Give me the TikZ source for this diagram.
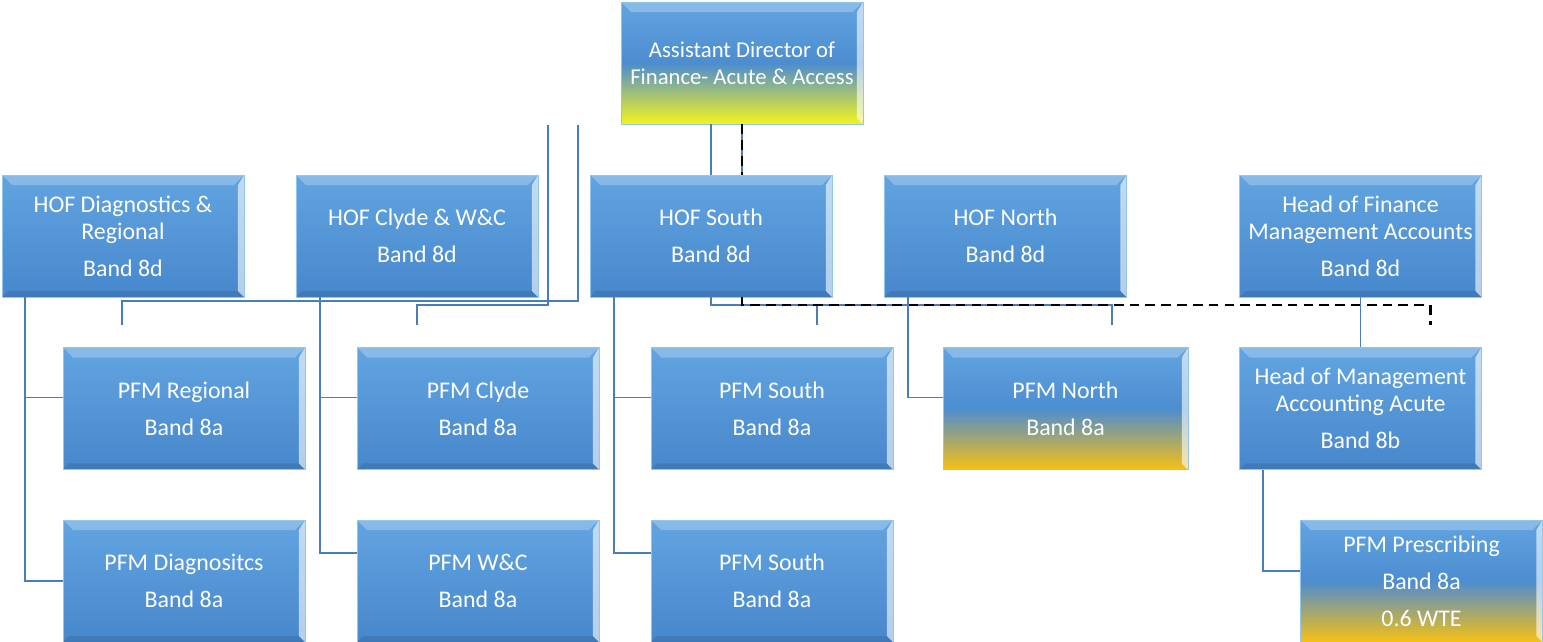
\documentclass[tikz,border=0pt]{standalone}
\usepackage{fontspec}
\setmainfont{Carlito}
\usetikzlibrary{positioning}
\usetikzlibrary{calc}

\definecolor{boxtop}{HTML}{62A4E1}
\definecolor{boxbot}{HTML}{4787CC}
\definecolor{boxedge}{HTML}{93C6EC}
\definecolor{adfyellow}{HTML}{F4F41E}
\definecolor{pfmgold}{HTML}{F7C014}
\definecolor{linkblue}{HTML}{4A7EBB}

\tikzset{
  bevel shade/.initial=0.1,
  orgbox/.style={rectangle, minimum width=4.84cm, minimum height=2.44cm, inner sep=2pt,
    align=center, text=white, font=\fontsize{13.6}{15.5}\selectfont,
    top color=boxtop, bottom color=boxbot, draw=boxedge, line width=0.4pt,
    path picture={
      \fill[white, opacity=0.25] (path picture bounding box.north west) -- (path picture bounding box.north east)
        -- ([shift={(-0.2cm,-0.2cm)}]path picture bounding box.north east) -- ([shift={(0.2cm,-0.2cm)}]path picture bounding box.north west) -- cycle;
      \fill[white, opacity=0.6] (path picture bounding box.north east) -- (path picture bounding box.south east)
        -- ([shift={(-0.12cm,0.12cm)}]path picture bounding box.south east) -- ([shift={(-0.12cm,-0.2cm)}]path picture bounding box.north east) -- cycle;
      \fill[black, opacity=\pgfkeysvalueof{/tikz/bevel shade}] (path picture bounding box.south west) -- (path picture bounding box.south east)
        -- ([shift={(-0.12cm,0.12cm)}]path picture bounding box.south east) -- ([shift={(0.12cm,0.12cm)}]path picture bounding box.south west) -- cycle;
    }},
  adfbox/.style={orgbox, bevel shade=0, font=\fontsize{12.9}{15.5}\selectfont,
    top color=boxtop, bottom color=adfyellow, middle color=boxbot!80!boxtop},
  goldbox/.style={orgbox, bevel shade=0, top color=boxtop, bottom color=pfmgold, middle color=boxbot!80!boxtop},
  conn/.style={draw=linkblue, line width=1.1pt},
  dashline/.style={draw=black, line width=1.7pt, dash pattern=on 5.5pt off 3.5pt}
}

\begin{document}
\begin{tikzpicture}[x=0.02cm, y=-0.02cm]

  \useasboundingbox (0,0) rectangle (1543,642);

  \node[adfbox] (adf) at (742, 63) {Assistant Director of\\Finance- Acute \& Access};

  % heads of finance
  \node[orgbox] (hofdiag) at (123, 236) {HOF Diagnostics \&\\Regional\\[5.5pt]Band 8d};
  \node[orgbox] (hofclyde) at (417, 236) {HOF Clyde \& W\&C\\[5.5pt]Band 8d};
  \node[orgbox] (hofsouth) at (711, 236) {HOF South\\[5.5pt]Band 8d};
  \node[orgbox] (hofnorth) at (1005.5, 236) {HOF North\\[5.5pt]Band 8d};
  \node[orgbox] (hofma) at (1360.5, 236) {Head of Finance\\Management Accounts\\[5.5pt]Band 8d};

  % principal finance managers
  \node[orgbox] (pfmreg) at (184, 408.5) {PFM Regional\\[5.5pt]Band 8a};
  \node[orgbox] (pfmclyde) at (478, 408.5) {PFM Clyde\\[5.5pt]Band 8a};
  \node[orgbox] (pfmsoutha) at (772, 408.5) {PFM South\\[5.5pt]Band 8a};
  \node[goldbox, minimum width=4.9cm] (pfmnorth) at (1065.5, 408.5) {PFM North\\[5.5pt]Band 8a};
  \node[orgbox] (homa) at (1360.5, 408.5) {Head of Management\\Accounting Acute\\[5.5pt]Band 8b};

  \node[orgbox] (pfmdiag) at (184, 581) {PFM Diagnositcs\\[5.5pt]Band 8a};
  \node[orgbox] (pfmwc) at (478, 581) {PFM W\&C\\[5.5pt]Band 8a};
  \node[orgbox] (pfmsouthb) at (772, 581) {PFM South\\[5.5pt]Band 8a};
  \node[goldbox] (pfmpres) at (1421.5, 581) {PFM Prescribing\\[5.5pt]Band 8a\\[5.5pt]0.6 WTE};

  % loose ends of the connectors
  \coordinate (enda) at (548, 125);
  \coordinate (endb) at (578, 125);
  \coordinate (busa) at (0, 301);
  \coordinate (busb) at (0, 305);
  \coordinate (stubreg) at (122, 325);
  \coordinate (stubclyde) at (417, 325);
  \coordinate (stubsouth) at (817, 325);
  \coordinate (stubnorth) at (1112, 325);
  \coordinate (stubdash) at (1430, 325);

  \draw[conn] (endb) |- (stubreg |- busa) -- (stubreg);
  \draw[conn] (enda) |- (stubclyde |- busb) -- (stubclyde);

  \draw[conn] (adf.south -| hofsouth.north) -- (hofsouth.north);
  \draw[conn] (adf.south) -- (adf.south |- hofsouth.north);
  \draw[dashline] (adf.south) -- (adf.south |- hofsouth.north);

  \draw[conn] (hofsouth.south) |- (stubsouth |- busb) -- (stubsouth);
  \draw[conn] (adf.south |- hofsouth.south) |- (stubnorth |- busb) -- (stubnorth);
  \draw[dashline] (adf.south |- hofsouth.south) |- (stubdash |- busb) -- (stubdash);

  \draw[conn] ([xshift=0.46cm]hofdiag.south west) |- ([yshift=0.22cm]pfmreg.west);
  \draw[conn] ([xshift=0.46cm]hofdiag.south west) |- (pfmdiag.west);
  \draw[conn] ([xshift=0.48cm]hofclyde.south west) |- ([yshift=0.22cm]pfmclyde.west);
  \draw[conn] ([xshift=0.48cm]hofclyde.south west) |- ([yshift=0.56cm]pfmwc.west);
  \draw[conn] ([xshift=0.48cm]hofsouth.south west) |- ([yshift=0.22cm]pfmsoutha.west);
  \draw[conn] ([xshift=0.48cm]hofsouth.south west) |- ([yshift=0.56cm]pfmsouthb.west);
  \draw[conn] ([xshift=0.48cm]hofnorth.south west) |- ([yshift=0.22cm]pfmnorth.west);

  \draw[conn] (hofma.south) -- (homa.north);
  \draw[conn] ([xshift=0.48cm]homa.south west) |- ([yshift=0.2cm]pfmpres.west);

\end{tikzpicture}
\end{document}
